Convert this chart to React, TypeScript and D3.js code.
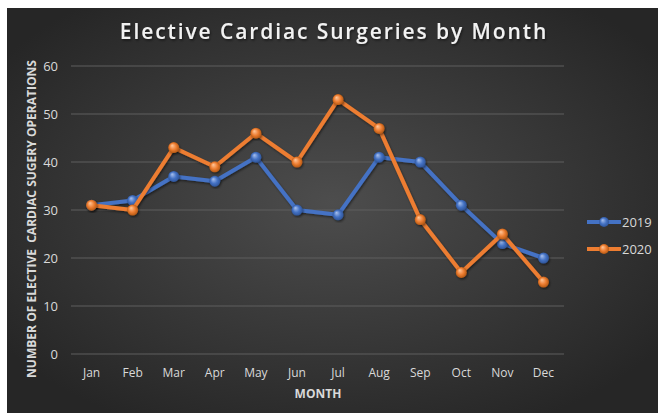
import React, { useEffect, useRef } from 'react';
import * as d3 from 'd3';

const months = ['Jan', 'Feb', 'Mar', 'Apr', 'May', 'Jun', 'Jul', 'Aug', 'Sep', 'Oct', 'Nov', 'Dec'];
const values2019 = [31, 32, 37, 36, 41, 30, 29, 41, 40, 31, 23, 20];
const values2020 = [31, 30, 43, 39, 46, 40, 53, 47, 28, 17, 25, 15];
const yTicks = [0, 10, 20, 30, 40, 50, 60];

const W = 651;
const H = 405;
const FONT = '"Open Sans", "Noto Sans", sans-serif';

const series = [
  { name: '2019', values: values2019, color: '#4472C4', light: '#a9c1ee', dark: '#2b4f91' },
  { name: '2020', values: values2020, color: '#ED7D31', light: '#ffc89c', dark: '#a9520f' },
];

const App = () => {
  const ref = useRef<SVGSVGElement>(null);

  useEffect(() => {
    const svg = d3.select(ref.current);
    svg.selectAll('*').remove();

    const defs = svg.append('defs');
    const bg = defs.append('radialGradient').attr('id', 'bg')
      .attr('cx', '50%').attr('cy', '48%').attr('r', '62%');
    bg.append('stop').attr('offset', '0%').attr('stop-color', '#4d4d4d');
    bg.append('stop').attr('offset', '100%').attr('stop-color', '#262626');

    series.forEach(s => {
      const g = defs.append('radialGradient').attr('id', 'ball' + s.name)
        .attr('cx', '50%').attr('cy', '50%').attr('r', '55%')
        .attr('fx', '35%').attr('fy', '30%');
      g.append('stop').attr('offset', '0%').attr('stop-color', s.light);
      g.append('stop').attr('offset', '55%').attr('stop-color', s.color);
      g.append('stop').attr('offset', '100%').attr('stop-color', s.dark);
    });

    const shadow = defs.append('filter').attr('id', 'shadow')
      .attr('x', '-20%').attr('y', '-20%').attr('width', '140%').attr('height', '140%');
    shadow.append('feDropShadow').attr('dx', 1).attr('dy', 1.5).attr('stdDeviation', 1.2)
      .attr('flood-color', '#000').attr('flood-opacity', 0.5);

    svg.append('rect').attr('width', W).attr('height', H).attr('fill', 'url(#bg)');

    const x = d3.scaleBand<string>().domain(months).range([64, 557]);
    const y = d3.scaleLinear().domain([0, 60]).range([346, 58]);

    // gridlines
    svg.append('g')
      .selectAll('line')
      .data(yTicks)
      .enter()
      .append('line')
      .attr('x1', 64).attr('x2', 557)
      .attr('y1', d => y(d)).attr('y2', d => y(d))
      .attr('stroke', '#5e5e5e').attr('stroke-width', 1);

    const yAxis = d3.axisLeft(y).tickValues(yTicks).tickSize(0).tickPadding(6);
    const yg = svg.append('g').attr('transform', 'translate(57,0)').call(yAxis);
    yg.select('.domain').remove();
    yg.selectAll('text').attr('fill', '#d9d9d9').style('font-family', FONT).style('font-size', '13px');

    const xAxis = d3.axisBottom(x).tickSize(0).tickPadding(14);
    const xg = svg.append('g').attr('transform', 'translate(0,346)').call(xAxis);
    xg.select('.domain').remove();
    xg.selectAll('text').attr('fill', '#d9d9d9').style('font-family', FONT).style('font-size', '12px');

    const line = d3.line<number>()
      .x((d, i) => (x(months[i]) as number) + x.bandwidth() / 2)
      .y(d => y(d));

    series.forEach(s => {
      svg.append('path')
        .datum(s.values)
        .attr('d', line)
        .attr('fill', 'none')
        .attr('stroke', s.color)
        .attr('stroke-width', 4)
        .attr('stroke-linejoin', 'round')
        .attr('filter', 'url(#shadow)');
      svg.append('g')
        .selectAll('circle')
        .data(s.values)
        .enter()
        .append('circle')
        .attr('cx', (d, i) => (x(months[i]) as number) + x.bandwidth() / 2)
        .attr('cy', d => y(d))
        .attr('r', 5.5)
        .attr('fill', 'url(#ball' + s.name + ')')
        .attr('filter', 'url(#shadow)');
    });

    // legend
    const legend = svg.append('g')
      .selectAll('g')
      .data(series)
      .enter()
      .append('g')
      .attr('transform', (d, i) => `translate(580,${214 + i * 27})`);
    legend.append('line')
      .attr('x1', 0).attr('x2', 34)
      .attr('stroke', d => d.color).attr('stroke-width', 4);
    legend.append('circle')
      .attr('cx', 17).attr('r', 5)
      .attr('fill', d => 'url(#ball' + d.name + ')');
    legend.append('text')
      .attr('x', 35).attr('y', 5)
      .attr('fill', '#d9d9d9')
      .style('font-family', FONT).style('font-size', '13px')
      .text(d => d.name);

    svg.append('text')
      .attr('x', 327).attr('y', 31)
      .attr('text-anchor', 'middle')
      .attr('fill', '#f2f2f2')
      .attr('filter', 'url(#shadow)')
      .style('font-family', FONT).style('font-size', '21px').style('font-weight', 600)
      .style('letter-spacing', '1.9px')
      .text('Elective Cardiac Surgeries by Month');

    svg.append('text')
      .attr('x', 311).attr('y', 390)
      .attr('text-anchor', 'middle')
      .attr('fill', '#d9d9d9')
      .style('font-family', FONT).style('font-size', '12px').style('font-weight', 700)
      .text('MONTH');

    svg.append('text')
      .attr('transform', 'translate(29,211) rotate(-90)')
      .attr('text-anchor', 'middle')
      .attr('fill', '#d9d9d9')
      .attr('textLength', 318)
      .attr('lengthAdjust', 'spacingAndGlyphs')
      .style('font-family', FONT).style('font-size', '12px').style('font-weight', 700)
      .style('white-space', 'pre')
      .text('NUMBER OF ELECTIVE  CARDIAC SUGERY OPERATIONS');
  }, []);

  return (
    <svg
      ref={ref}
      width={W}
      height={H}
      style={{ display: 'block', position: 'absolute', left: 7, top: 8 }}
    />
  );
};

export default App;
